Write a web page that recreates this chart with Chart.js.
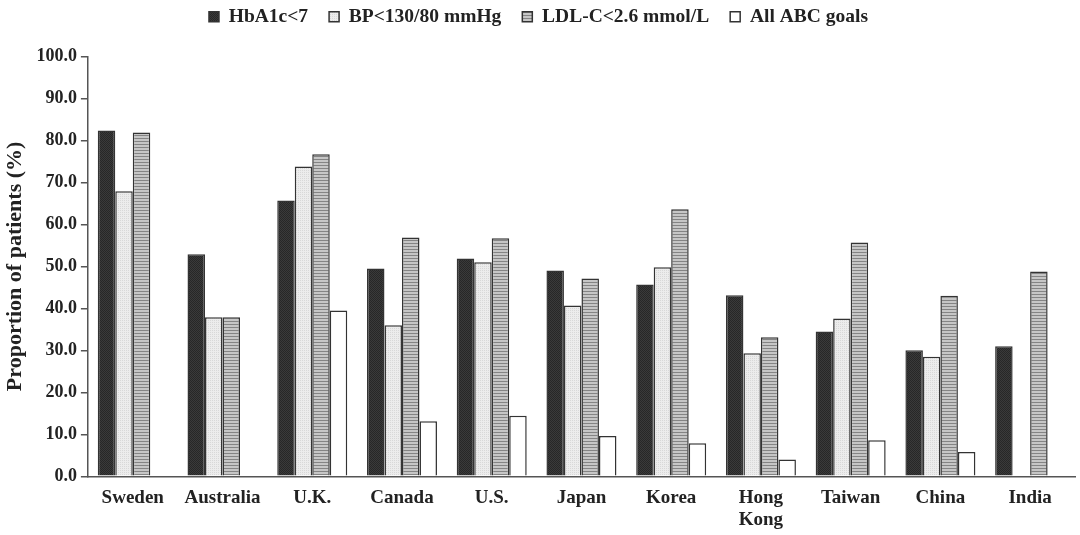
<!DOCTYPE html>
<html lang="en">
<head>
<meta charset="UTF-8">
<title>ABC goals by country</title>
<script src="https://cdn.jsdelivr.net/npm/chart.js@4.4.0/dist/chart.umd.min.js"></script>
<style>
  body { margin: 0; background: #fff; }
  #wrap { width: 1080px; height: 535px; position: relative; }
</style>
</head>
<body>
<div id="wrap"><canvas id="chart"></canvas></div>
<script>
const countries = ['Sweden', 'Australia', 'U.K.', 'Canada', 'U.S.', 'Japan', 'Korea', ['Hong', 'Kong'], 'Taiwan', 'China', 'India'];
const hba1c = [82.4, 52.9, 65.7, 49.5, 51.9, 49.0, 45.7, 43.1, 34.5, 30.0, 31.0];
const bp    = [67.9, 37.9, 73.8, 36.0, 51.0, 40.7, 49.8, 29.3, 37.6, 28.5, null];
const ldl   = [81.9, 37.9, 76.7, 56.9, 56.7, 47.1, 63.6, 33.1, 55.7, 43.0, 48.8];
const abc   = [null, null, 39.5, 13.1, 14.4, 9.6, 7.9, 4.0, 8.6, 5.8, null];
const yTicks = [0, 10, 20, 30, 40, 50, 60, 70, 80, 90, 100];

// little texture tiles so the bars look like the printed figure
function makePattern(size, draw) {
  const c = document.createElement('canvas');
  c.width = size; c.height = size;
  draw(c.getContext('2d'));
  return c.getContext('2d').createPattern(c, 'repeat');
}
const darkFill = makePattern(2, g => {
  g.fillStyle = '#3a3a3a'; g.fillRect(0, 0, 2, 2);
  g.fillStyle = '#272727'; g.fillRect(0, 0, 1, 1); g.fillRect(1, 1, 1, 1);
});
const lightFill = makePattern(2, g => {
  g.fillStyle = '#ececec'; g.fillRect(0, 0, 2, 2);
  g.fillStyle = '#d8d8d8'; g.fillRect(0, 0, 1, 1);
});
const stripeFill = makePattern(3, g => {
  g.fillStyle = '#c6c6c6'; g.fillRect(0, 0, 3, 3);
  g.fillStyle = '#848484'; g.fillRect(0, 0, 3, 1);
});

const font = 'Liberation Serif, Times New Roman, serif';

function bars(label, data, fill) {
  return {
    label: label,
    data: data,
    backgroundColor: fill,
    borderColor: '#333',
    borderWidth: 1.5,
    categoryPercentage: 0.78,
    barPercentage: 1.0
  };
}

// push the plot down a bit below the legend
const legendGap = {
  id: 'legendGap',
  beforeInit(chart) {
    const fit = chart.legend.fit;
    chart.legend.fit = function () {
      fit.call(this);
      this.height += 20;
    };
  }
};

new Chart(document.getElementById('chart'), {
  type: 'bar',
  data: {
    labels: countries,
    datasets: [
      bars('HbA1c<7', hba1c, darkFill),
      bars('BP<130/80 mmHg', bp, lightFill),
      bars('LDL-C<2.6 mmol/L', ldl, stripeFill),
      bars('All ABC goals', abc, '#ffffff')
    ]
  },
  plugins: [legendGap],
  options: {
    responsive: true,
    maintainAspectRatio: false,
    animation: false,
    layout: { padding: { left: 2, right: 5, top: -14, bottom: -7 } },
    plugins: {
      tooltip: { enabled: false },
      legend: {
        position: 'top',
        labels: {
          boxWidth: 10, boxHeight: 10, padding: 21,
          color: '#222',
          font: { family: font, size: 19.5, weight: 'bold' }
        }
      }
    },
    scales: {
      x: {
        grid: { display: false, drawTicks: false },
        border: { color: '#555', width: 1.5 },
        ticks: { color: '#222', padding: 11, font: { family: font, size: 19, weight: 'bold', lineHeight: 1.15 } }
      },
      y: {
        min: 0, max: 100,
        afterBuildTicks: axis => { axis.ticks = yTicks.map(v => ({ value: v })); },
        grid: { drawOnChartArea: false, drawTicks: true, tickLength: 7, color: '#555', lineWidth: 1.5 },
        border: { color: '#555', width: 1.5 },
        ticks: {
          color: '#222', padding: 4,
          font: { family: font, size: 18, weight: 'bold' },
          callback: v => v.toFixed(1)
        },
        title: {
          display: true, text: 'Proportion of patients (%)', color: '#222', padding: { top: 0, bottom: 4 },
          font: { family: font, size: 22, weight: 'bold' }
        }
      }
    }
  }
});
</script>
</body>
</html>
